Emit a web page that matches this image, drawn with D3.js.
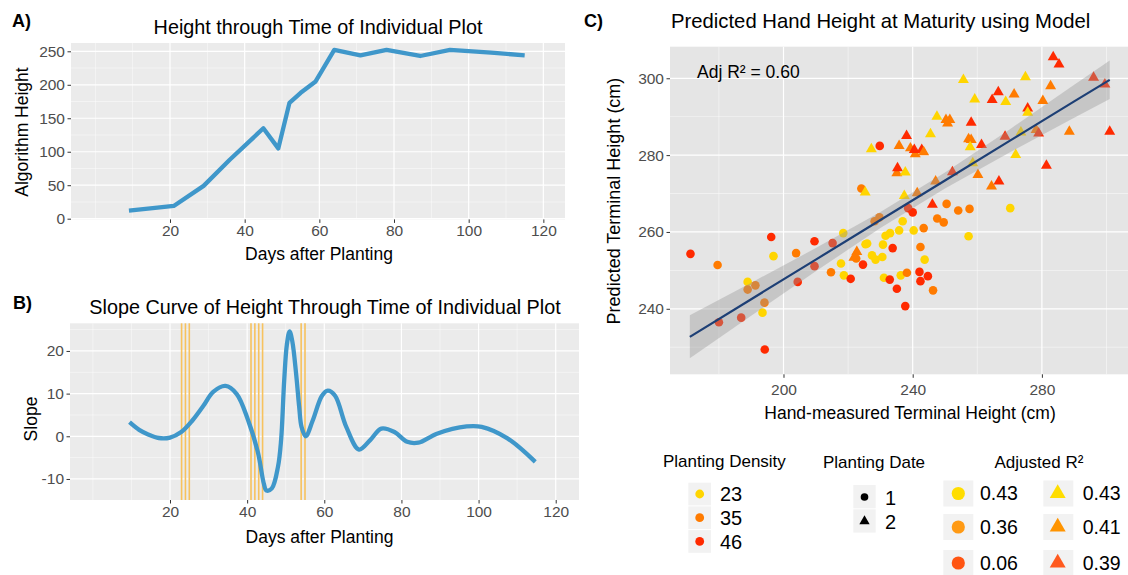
<!DOCTYPE html>
<html>
<head>
<meta charset="utf-8">
<script src="https://d3js.org/d3.v7.min.js"></script>
<style>
  body { margin: 0; background: #fff; }
  svg text { font-family: "Liberation Sans", Arial, sans-serif; }
</style>
</head>
<body>
<svg id="fig" width="1128" height="575"></svg>
<script>
// ---- panel A : height through time
var daysA   = [9, 16, 21, 29, 36, 45, 49, 52, 55, 59, 64, 71, 78, 87, 95, 106, 115];
var heightA = [12, 16, 19, 49, 88, 135, 105, 173, 188, 205, 252, 244, 252, 243, 252, 248, 244];

// ---- panel B : slope curve
var daysB  = [9.5, 12, 14.2, 17.1, 20, 22.9, 25.8, 28.7, 31.2, 34.4, 37.3, 40.2, 42.8, 44.3, 45, 46.4, 48, 48.8,
              49.6, 50.3, 51, 51.7, 52.7, 53.5, 54.1, 55.2, 57, 59.4, 60.9, 62.8, 65.7, 69, 71.9, 74.8, 78.2,
              81.5, 84.4, 89.2, 96.9, 100.8, 107.5, 114.7];
var slopeB = [3.3, 1.5, 0.5, -0.4, -0.3, 1.0, 3.7, 7.2, 10.4, 11.8, 9.9, 3.9, -3.8, -11, -12.7, -12.2, -7.1, -0.9,
              13, 21.5, 24.6, 22.3, 14.6, 6.8, 2.2, 0, 3.7, 9.5, 10.7, 9.5, 2.2, -3.1, -0.9, 1.8, 1.0,
              -1.3, -1.5, 0.6, 2.3, 2.2, -0.5, -6.0];
var flagDays = [23, 24, 25, 41, 42, 43, 44, 54, 55];

// ---- panel C : predicted vs hand measured
var handHeight = [171.2,179.6,180.0,186.9,188.9,188.9,191.3,194.1,193.5,194.2,196.2,196.9,203.9,204.4,209.6,209.6,
  215.2,214.7,217.8,218.5,218.7,220.8,224.1,224.6,225.9,225.4,227.4,228.5,230.6,230.8,231.6,233.0,235.8,236.9,
  233.8,231.1,232.9,235.1,236.3,238.2,237.7,238.6,240.0,240.3,242.4,243.4,243.7,242.1,242.4,244.7,246.3,247.6,
  249.6,250.5,254.1,257.6,257.3,270.2,229.8,229.7,228.2,222.5,
  222.7,221.8,225.3,227.2,235.1,235.3,235.8,237.7,237.4,238.1,239.3,240.8,240.5,242.8,243.4,241.4,245.5,246.1,
  247.5,247.1,250.3,251.5,250.8,252.3,255.7,257.3,258.1,258.1,257.8,258.6,259.2,260.2,261.3,264.6,266.5,264.4,
  266.7,268.8,268.6,271.4,271.9,273.5,274.9,275.6,275.6,278.2,279.0,280.3,281.4,282.7,283.5,285.3,288.5,296.0,
  299.5,301.0];
var predHeight = [254.3,251.4,236.5,237.7,247.0,245.0,246.1,241.6,239.0,229.4,258.7,253.7,254.5,247.0,257.6,251.1,
  257.1,249.5,251.8,259.7,248.7,247.8,271.3,251.5,257.0,256.8,253.9,252.8,253.5,256.7,259.0,259.7,260.4,262.8,
  255.8,248.1,247.6,245.2,248.7,249.4,240.7,266.2,265.1,260.4,256.1,261.0,252.8,249.6,247.2,248.5,244.8,263.5,
  262.5,267.3,265.6,266.0,258.9,266.2,282.4,263.8,262.8,253.1,
  254.8,253.3,270.3,281.6,275.3,276.6,282.4,275.5,269.4,285.0,281.8,280.3,281.4,281.4,280.8,270.1,285.5,267.1,
  290.0,273.2,289.2,289.2,288.3,275.6,299.6,284.2,284.0,288.5,282.1,277.9,294.5,274.9,282.7,294.4,296.4,271.9,
  273.2,293.9,284.8,295.8,280.1,285.9,300.3,292.2,291.1,286.6,285.7,294.1,277.3,298.0,305.5,303.6,286.1,300.2,
  298.4,286.1];
var density = [46,35,46,46,23,35,35,35,23,46,46,23,35,46,46,46,
  46,35,23,23,23,46,35,46,23,23,23,23,23,23,23,23,23,23,
  46,23,46,46,23,35,46,46,46,23,35,35,23,46,46,46,35,35,
  35,35,35,35,23,23,46,35,35,35,
  35,35,23,23,35,46,35,23,23,46,35,35,46,46,35,35,23,46,
  23,35,35,35,35,46,23,35,35,46,23,23,23,35,46,46,46,35,
  46,23,46,35,23,23,23,46,23,35,46,35,46,35,46,46,35,46,
  46,46];
var plantDate = handHeight.map(function(d, i){ return i < 62 ? 1 : 2; });

// fitted line and confidence band
var fitX  = [171, 190, 210, 230, 250, 270, 290, 301];
var fitY  = [232.7, 242.5, 252.8, 263.1, 273.4, 283.7, 294.0, 299.6];
var fitLo = [227.1, 238.2, 249.8, 261.0, 271.3, 280.7, 289.7, 294.6];
var fitHi = [238.3, 246.8, 255.8, 265.2, 275.5, 286.7, 298.3, 304.6];

// legends
var densityLevels = [23, 35, 46];
var densityColors = ["#FFD500", "#FF7B00", "#FF2A00"];
var dateLevels = ["1", "2"];
var r2Circle = ["0.43", "0.36", "0.06"];
var r2Tri    = ["0.43", "0.41", "0.39"];
var r2CircleColors = ["#FFDD00", "#FF9A14", "#FF5512"];
var r2TriColors    = ["#FFDD00", "#FF9400", "#FF5A1E"];

var densColor = d3.scaleOrdinal().domain(densityLevels).range(densityColors);

var svg = d3.select("#fig");
var lineBlue = "#3f97ca";

function panel(box, xDom, yDom, xMajor, xMinor, yMajor, yMinor, bg, xPad) {
  var x = d3.scaleLinear().domain(xDom).range([box.l, box.r]);
  var y = d3.scaleLinear().domain(yDom).range([box.b, box.t]);
  var g = svg.append("g");
  g.append("rect")
    .attr("x", box.l).attr("y", box.t)
    .attr("width", box.r - box.l).attr("height", box.b - box.t)
    .attr("fill", bg);
  g.selectAll(".mx").data(xMinor).enter().append("line")
    .attr("x1", x).attr("x2", x).attr("y1", box.t).attr("y2", box.b)
    .attr("stroke", "#fff").attr("stroke-width", 0.6).attr("opacity", 0.8);
  g.selectAll(".my").data(yMinor).enter().append("line")
    .attr("y1", y).attr("y2", y).attr("x1", box.l).attr("x2", box.r)
    .attr("stroke", "#fff").attr("stroke-width", 0.6).attr("opacity", 0.8);
  g.selectAll(".Mx").data(xMajor).enter().append("line")
    .attr("x1", x).attr("x2", x).attr("y1", box.t).attr("y2", box.b)
    .attr("stroke", "#fff").attr("stroke-width", 1.2);
  g.selectAll(".My").data(yMajor).enter().append("line")
    .attr("y1", y).attr("y2", y).attr("x1", box.l).attr("x2", box.r)
    .attr("stroke", "#fff").attr("stroke-width", 1.2);

  var fmt = function(d){ return String(d); };   // plain hyphen for negatives, like R
  var xa = g.append("g").attr("transform", "translate(0," + box.b + ")")
    .call(d3.axisBottom(x).tickValues(xMajor).tickFormat(fmt).tickSize(3.5).tickPadding(xPad));
  var ya = g.append("g").attr("transform", "translate(" + box.l + ",0)")
    .call(d3.axisLeft(y).tickValues(yMajor).tickFormat(fmt).tickSize(3.5).tickPadding(2.5));
  [xa, ya].forEach(function(a){
    a.select(".domain").remove();
    a.selectAll("line").attr("stroke", "#333");
    a.selectAll("text").attr("font-size", 15.5).attr("fill", "#4d4d4d")
      .attr("font-family", "'Liberation Sans', Arial, sans-serif");
  });
  return {g: g, x: x, y: y};
}

function label(txt, x, y, size, opts) {
  opts = opts || {};
  var t = svg.append("text").attr("x", x).attr("y", y).attr("font-size", size)
    .attr("fill", opts.fill || "#000")
    .attr("text-anchor", opts.anchor || "start")
    .text(txt);
  if (opts.bold) t.attr("font-weight", "bold");
  if (opts.rotate) t.attr("transform", "rotate(-90," + x + "," + y + ")");
  return t;
}

// ================= panel A
var pA = panel({l: 71, r: 565, t: 43, b: 219.4}, [-6.52, 125.8], [-1.05, 262.4],
  [20, 40, 60, 80, 100, 120], [0, 10, 30, 50, 70, 90, 110],
  [0, 50, 100, 150, 200, 250], [25, 75, 125, 175, 225], "#ebebeb", 2);
pA.g.append("path")
  .datum(daysA)
  .attr("d", d3.line().x(function(d){ return pA.x(d); })
    .y(function(d, i){ return pA.y(heightA[i]); }))
  .attr("fill", "none").attr("stroke", lineBlue).attr("stroke-width", 4.3)
  .attr("stroke-linejoin", "round").attr("stroke-linecap", "butt");

label("A)", 12, 27, 18, {bold: true});
label("Height through Time of Individual Plot", 318, 33.5, 19.8, {anchor: "middle"});
label("Days after Planting", 319, 260, 17.5, {anchor: "middle"});
label("Algorithm Height", 28, 132, 17.5, {anchor: "middle", rotate: true});

// ================= panel B
var pB = panel({l: 70, r: 579, t: 323.3, b: 500}, [-5.93, 126.04], [-14.93, 26.48],
  [20, 40, 60, 80, 100, 120], [0, 10, 30, 50, 70, 90, 110],
  [-10, 0, 10, 20], [-5, 5, 15, 25], "#ebebeb", 2);
pB.g.selectAll(".flag").data(flagDays).enter().append("line")
  .attr("x1", pB.x).attr("x2", pB.x).attr("y1", 323.3).attr("y2", 500)
  .attr("stroke", "#f7c25e").attr("stroke-width", 1.6);
pB.g.append("path")
  .datum(daysB)
  .attr("d", d3.line().curve(d3.curveCatmullRom.alpha(0.5))
    .x(function(d){ return pB.x(d); })
    .y(function(d, i){ return pB.y(slopeB[i]); }))
  .attr("fill", "none").attr("stroke", lineBlue).attr("stroke-width", 4.3)
  .attr("stroke-linejoin", "round");

label("B)", 13, 309, 18, {bold: true});
label("Slope Curve of Height Through Time of Individual Plot", 325, 313.5, 19.8, {anchor: "middle"});
label("Days after Planting", 319.5, 543, 17.5, {anchor: "middle"});
label("Slope", 37, 419, 17.5, {anchor: "middle", rotate: true});

// ================= panel C
var pC = panel({l: 670, r: 1128, t: 46.7, b: 374.3}, [164.86, 306.66], [222.95, 308.22],
  [200, 240, 280], [180, 220, 260, 300],
  [240, 260, 280, 300], [230, 250, 270, 290], "#e5e5e5", 6);

var pts = handHeight.map(function(d, i){
  return {x: d, y: predHeight[i], dens: density[i], date: plantDate[i]};
});
pC.g.selectAll(".pt").data(pts).enter().append("path")
  .attr("transform", function(d){ return "translate(" + pC.x(d.x) + "," + pC.y(d.y) + ")"; })
  .attr("d", function(d){
    return d3.symbol().type(d.date === 1 ? d3.symbolCircle : d3.symbolTriangle).size(d.date === 1 ? 58 : 52)();
  })
  .attr("fill", function(d){ return densColor(d.dens); });

pC.g.append("path")
  .datum(fitX)
  .attr("d", d3.area().x(function(d){ return pC.x(d); })
    .y0(function(d, i){ return pC.y(fitLo[i]); })
    .y1(function(d, i){ return pC.y(fitHi[i]); }))
  .attr("fill", "#999").attr("fill-opacity", 0.4);
pC.g.append("path")
  .datum(fitX)
  .attr("d", d3.line().x(function(d){ return pC.x(d); })
    .y(function(d, i){ return pC.y(fitY[i]); }))
  .attr("fill", "none").attr("stroke", "#1d3f75").attr("stroke-width", 2.2);

label("Adj R\u00b2 = 0.60", 697, 78, 17.5);
label("C)", 584, 27, 18, {bold: true});
label("Predicted Hand Height at Maturity using Model", 671, 27.5, 20.3);
label("Hand-measured Terminal Height (cm)", 910, 419, 17.5, {anchor: "middle"});
label("Predicted Terminal Height (cm)", 620, 201, 18, {anchor: "middle", rotate: true});

// ================= legends
// planting density
label("Planting Density", 663, 466.5, 17);
var ld = svg.append("g");
ld.selectAll("rect").data(densityLevels).enter().append("rect")
  .attr("x", 688.3).attr("y", function(d, i){ return 482.7 + i * 23.7; })
  .attr("width", 22.7).attr("height", 22.7).attr("fill", "#f2f2f2");
ld.selectAll("circle").data(densityLevels).enter().append("circle")
  .attr("cx", 699.7).attr("cy", function(d, i){ return 494 + i * 23.7; })
  .attr("r", 4.4).attr("fill", function(d){ return densColor(d); });
ld.selectAll("text").data(densityLevels).enter().append("text")
  .attr("x", 720).attr("y", function(d, i){ return 501 + i * 24; })
  .attr("font-size", 20).text(function(d){ return d; });

// planting date
label("Planting Date", 823, 468, 17);
var lt = svg.append("g");
lt.selectAll("rect").data(dateLevels).enter().append("rect")
  .attr("x", 853.3).attr("y", function(d, i){ return 485 + i * 24.3; })
  .attr("width", 22.4).attr("height", 23.3).attr("fill", "#f2f2f2");
lt.selectAll("path").data(dateLevels).enter().append("path")
  .attr("transform", function(d, i){ return "translate(864.5," + (497 + i * 24.3) + ")"; })
  .attr("d", function(d, i){ return d3.symbol().type(i === 0 ? d3.symbolCircle : d3.symbolTriangle).size(46)(); })
  .attr("fill", "#000");
lt.selectAll("text").data(dateLevels).enter().append("text")
  .attr("x", 885).attr("y", function(d, i){ return 505 + i * 24; })
  .attr("font-size", 20).text(function(d){ return d; });

// adjusted R2
label("Adjusted R\u00b2", 994.5, 468, 17);
var lr = svg.append("g");
var rowY = [493.5, 527, 563];
lr.selectAll(".kc").data(r2Circle).enter().append("rect")
  .attr("x", 943.3).attr("y", function(d, i){ return rowY[i] - 13; })
  .attr("width", 30).attr("height", 26).attr("fill", "#f2f2f2");
lr.selectAll(".kt").data(r2Tri).enter().append("rect")
  .attr("x", 1043.3).attr("y", function(d, i){ return rowY[i] - 13; })
  .attr("width", 30).attr("height", 26).attr("fill", "#f2f2f2");
lr.selectAll(".sc").data(r2Circle).enter().append("circle")
  .attr("cx", 958.3).attr("cy", function(d, i){ return rowY[i]; })
  .attr("r", 6.6).attr("fill", function(d, i){ return r2CircleColors[i]; });
lr.selectAll(".st").data(r2Tri).enter().append("path")
  .attr("transform", function(d, i){ return "translate(1057.7," + rowY[i] + ")"; })
  .attr("d", d3.symbol().type(d3.symbolTriangle).size(110)())
  .attr("fill", function(d, i){ return r2TriColors[i]; });
lr.selectAll(".lc").data(r2Circle).enter().append("text")
  .attr("x", 980).attr("y", function(d, i){ return rowY[i] + 6.5; })
  .attr("font-size", 19.5).text(function(d){ return d; });
lr.selectAll(".lt").data(r2Tri).enter().append("text")
  .attr("x", 1082.7).attr("y", function(d, i){ return rowY[i] + 6.5; })
  .attr("font-size", 19.5).text(function(d){ return d; });
</script>
</body>
</html>
